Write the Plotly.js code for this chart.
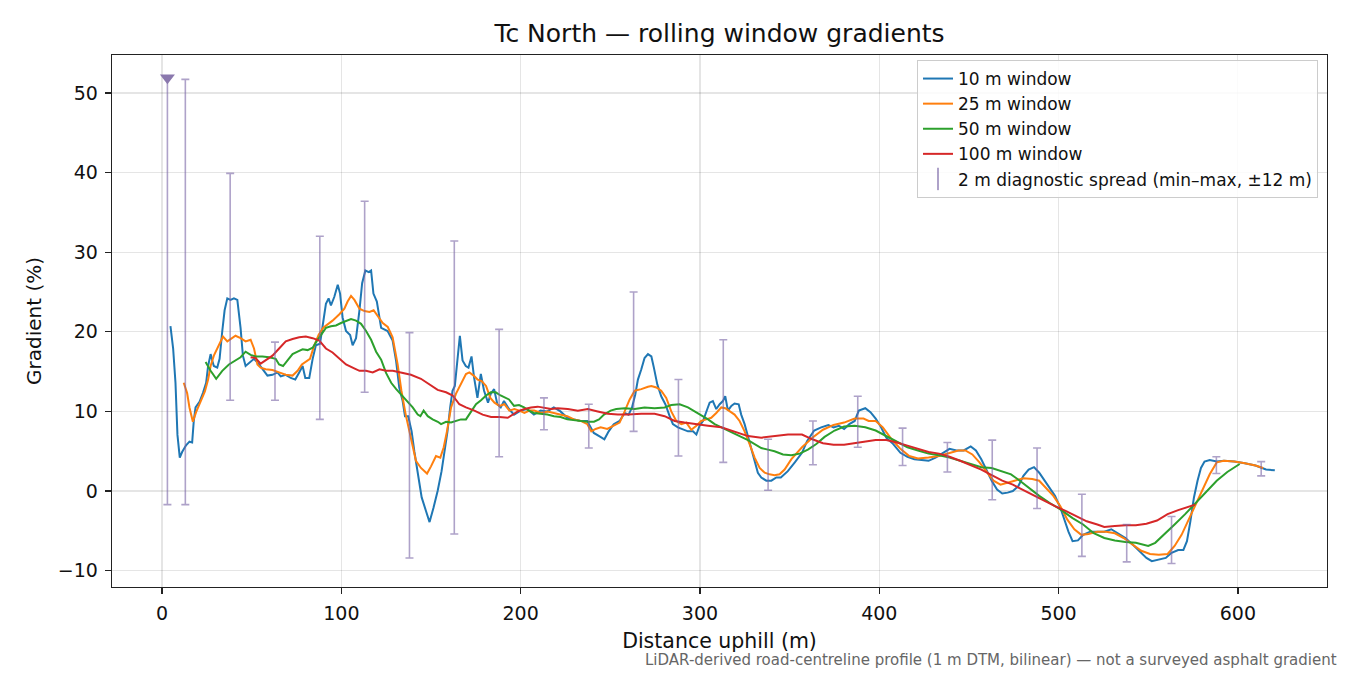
<!DOCTYPE html>
<html>
<head>
<meta charset="utf-8">
<script src="https://cdn.plot.ly/plotly-3.0.1.min.js"></script>
<style>html,body{margin:0;padding:0;background:#fff}#chart{width:1350px;height:675px}</style>
</head>
<body>
<div id="chart"></div>
<script>
// ---- data ----
var w10x = [4.7,6.2,7.5,8.6,9.9,11.2,13.4,15.3,16.8,17.7,18.7,20.9,22.8,24.6,25.7,27.1,28.0,28.9,30.8,32.1,33.6,34.9,36.4,38.2,40.1,42.0,43.8,45.1,46.6,48.9,51.3,54.1,56.9,58.8,61.6,64.4,66.2,69.0,71.8,74.3,76.5,78.4,79.9,82.1,84.0,85.8,88.1,89.9,91.4,92.9,94.2,96.1,98.0,99.3,100.7,102.6,104.9,106.3,108.2,110.1,111.6,113.4,115.3,116.6,117.9,119.8,122.2,125.8,128.6,130.5,132.3,134.2,135.5,137.3,139.2,140.7,142.5,144.8,147.2,149.2,151.4,153.7,155.9,157.7,159.2,160.7,162.0,163.3,164.4,166.1,167.6,169.4,170.9,172.6,174.0,175.9,177.8,179.6,181.8,183.3,185.2,187.0,188.9,190.7,193.5,196.3,200.0,203.7,207.4,211.1,214.8,218.5,222.2,226.0,229.7,233.4,237.1,240.8,244.5,246.7,249.1,251.9,255.2,258.0,260.2,262.1,263.9,265.4,267.3,269.1,271.0,272.9,274.3,276.2,278.4,280.7,283.1,284.9,287.7,290.5,293.3,296.1,298.0,299.8,301.7,304.1,305.4,307.2,309.1,311.0,312.8,314.1,315.6,317.5,319.3,321.6,323.0,324.9,326.8,328.6,330.5,332.3,334.2,337.0,339.8,342.6,345.1,349.0,352.9,356.9,359.8,363.7,367.6,371.6,374.5,377.5,380.4,383.3,386.3,388.6,392.2,395.1,398.0,401.0,403.9,407.8,411.8,415.7,419.6,423.5,427.5,431.4,435.3,439.2,443.1,447.1,451.0,453.9,456.9,459.8,462.7,465.7,468.6,471.6,474.5,477.5,480.4,483.3,486.3,489.2,492.2,495.1,498.0,501.0,502.9,505.5,507.8,510.8,513.7,517.6,521.6,525.5,529.4,533.3,537.3,541.2,545.1,549.0,552.0,555.9,559.8,562.7,566.7,569.6,571.6,573.5,575.5,577.5,579.4,581.4,584.3,588.2,592.2,598.0,603.9,609.8,615.7,620.6];
var w10y = [20.7,17.9,13.6,7.05,4.2,4.9,5.75,6.2,6.1,8.8,10.5,11.2,12.3,13.6,15.7,17.2,16.4,15.7,15.5,16.6,20.1,22.7,24.2,24.0,24.2,24.0,20.5,17.0,15.7,16.2,16.6,15.9,15.1,14.5,14.6,14.9,14.4,14.6,14.2,14.0,14.9,15.7,14.2,14.2,16.6,18.3,18.5,21.4,23.5,24.2,23.3,24.4,25.9,24.8,21.8,20.1,19.6,18.3,19.2,22.7,26.1,27.7,27.5,27.7,24.8,23.8,20.5,20.1,18.9,16.4,13.0,11.3,9.4,9.4,7.5,5.0,2.5,-0.8,-2.5,-3.9,-2.1,0.0,2.5,5.0,7.5,10.5,12.6,13.2,15.9,19.5,16.4,15.7,15.5,16.9,14.3,11.7,14.7,12.6,11.1,12.2,12.8,10.9,10.5,11.3,10.3,9.6,10.1,10.3,9.6,10.1,10.0,10.5,10.0,9.2,9.0,8.8,8.8,7.3,6.8,6.5,7.5,8.4,8.8,9.8,9.6,10.5,12.1,14.0,15.3,16.7,17.2,16.9,15.5,13.4,11.9,10.9,9.4,8.4,8.0,7.7,7.5,7.5,7.1,8.2,8.8,10.3,11.1,11.3,10.3,10.9,11.3,11.9,10.1,10.7,11.0,10.9,9.6,8.4,6.9,5.2,3.8,2.3,1.7,1.3,1.3,1.7,1.7,2.5,3.6,4.8,6.3,7.6,8.0,8.3,8.0,8.2,7.8,8.4,8.8,10.1,10.4,9.9,9.1,8.0,6.7,5.9,4.8,4.3,4.0,3.9,3.8,4.2,4.8,5.3,5.1,5.1,5.6,5.1,4.0,2.7,1.3,0.2,-0.3,-0.2,0.0,0.6,1.9,2.7,3.0,2.3,1.3,0.2,-0.6,-2.1,-3.4,-5.1,-6.3,-6.2,-5.5,-5.1,-5.1,-5.1,-4.8,-5.3,-5.9,-6.7,-7.6,-8.4,-8.8,-8.6,-8.4,-7.8,-7.4,-7.4,-6.3,-3.8,-0.8,1.3,2.9,3.7,3.9,3.7,3.8,3.7,3.5,3.2,2.7,2.6];

var w25x = [12.1,14.0,15.3,17.2,19.0,21.5,23.9,25.7,27.1,28.9,31.3,34.0,36.4,38.8,41.0,43.8,46.6,49.4,51.3,53.2,55.0,57.8,61.6,65.3,69.0,72.8,75.6,78.0,80.2,82.5,84.9,87.3,89.9,92.4,95.1,98.9,101.7,103.5,105.4,107.3,110.1,112.9,115.7,118.0,120.3,123.1,125.9,128.6,131.4,133.5,135.9,138.7,141.6,144.4,147.8,150.0,152.8,155.2,157.1,158.9,161.2,163.9,166.7,169.5,171.4,173.8,176.0,178.3,180.7,183.1,185.4,188.2,190.9,193.7,196.5,199.3,202.1,204.9,207.6,211.4,215.1,218.8,222.3,226.0,229.7,233.5,237.2,239.4,241.8,244.6,248.3,252.0,255.2,258.0,260.8,263.6,267.3,271.0,272.9,275.7,278.4,281.2,284.0,286.8,289.6,292.4,295.2,298.0,300.7,303.5,306.3,309.1,311.9,314.1,316.5,319.3,322.1,324.9,327.7,330.5,333.3,336.1,338.8,341.6,344.4,347.2,351.0,356.9,362.7,368.6,374.5,380.4,386.3,391.2,394.1,398.0,402.0,406.9,411.8,416.7,421.6,427.5,433.3,439.2,444.1,448.0,451.9,455.9,459.8,463.7,467.6,471.6,475.5,480.4,485.3,489.2,493.1,497.1,501.0,504.9,508.8,512.7,516.7,521.6,526.5,531.4,536.3,541.2,546.1,551.0,555.9,560.8,564.7,568.6,572.5,576.5,580.4,584.3,588.2,592.2,598.0,603.9,609.8,614.1];
var w25y = [13.6,12.3,10.5,8.7,9.9,11.2,12.5,14.0,15.7,17.0,18.1,19.4,18.8,19.2,19.5,19.2,18.8,19.0,17.9,15.9,15.5,15.3,15.2,14.9,14.6,14.5,15.1,15.9,16.2,16.6,18.3,19.6,20.5,20.9,21.4,22.2,22.9,23.8,24.5,24.0,22.9,22.6,22.5,22.7,22.0,21.1,20.6,19.3,15.9,12.6,9.6,6.7,3.8,2.9,2.2,3.1,4.4,4.2,5.5,7.5,10.5,12.2,13.4,14.7,14.9,14.5,14.0,13.8,13.2,11.7,11.1,10.7,10.9,10.1,10.3,10.1,9.8,10.1,10.1,9.8,10.0,9.8,9.6,9.4,9.0,8.8,8.4,7.5,7.8,8.0,7.8,8.2,8.6,10.0,11.5,12.6,12.8,13.1,13.2,13.0,12.6,11.7,10.0,8.8,8.4,8.6,7.7,8.2,8.8,9.0,9.2,9.8,10.5,10.4,10.0,9.6,8.8,7.5,5.9,4.2,2.9,2.3,2.1,2.0,2.1,2.7,4.0,5.5,6.7,7.7,8.3,8.6,9.1,9.1,8.8,8.8,8.0,6.5,5.3,4.4,4.1,4.2,4.4,4.8,5.1,5.1,4.6,3.6,2.5,1.3,0.8,1.1,1.3,1.6,1.5,1.3,0.4,-0.6,-1.9,-3.6,-4.8,-5.5,-5.4,-5.1,-5.1,-5.3,-5.9,-6.7,-7.5,-7.9,-8.0,-7.9,-6.9,-5.5,-3.6,-1.7,0.4,2.1,3.6,3.8,3.7,3.5,3.2,2.9];

var w50x = [24.3,27.1,30.2,33.6,37.3,41.0,43.8,46.6,49.4,52.2,56.0,59.7,63.4,65.3,67.5,70.0,72.8,75.6,78.4,81.2,84.0,86.2,88.6,91.4,94.2,97.0,99.8,102.6,105.4,108.2,111.0,113.8,116.6,119.4,122.2,125.0,127.8,130.6,133.4,136.2,139.8,142.6,144.1,145.9,148.2,150.9,153.8,155.6,158.4,161.2,163.9,166.7,169.5,172.3,175.1,177.9,180.7,183.3,186.1,188.8,191.6,193.5,196.3,199.1,201.9,204.6,207.4,211.1,214.9,218.6,222.3,226.0,229.7,233.5,237.2,240.9,243.7,246.5,250.2,253.3,258.0,263.6,269.1,274.7,280.3,284.0,288.7,293.3,297.0,300.7,304.5,308.2,311.9,315.6,319.3,323.0,326.8,330.5,334.2,337.9,341.6,346.3,350.9,355.6,360.2,364.9,369.5,375.1,380.4,386.3,392.2,398.0,403.9,409.8,415.7,421.6,427.5,433.3,439.2,445.1,451.0,456.9,462.7,468.6,473.5,478.4,483.3,489.2,495.1,501.0,507.8,513.7,519.6,525.5,531.4,537.3,543.1,550.0,553.9,558.8,564.7,570.6,576.5,582.4,588.2,594.1,601.0];
var w50y = [16.2,15.1,14.1,15.1,15.9,16.4,16.8,17.5,17.1,16.9,16.9,16.8,16.6,15.9,15.7,16.4,17.2,17.5,17.8,17.7,18.0,18.8,19.6,20.5,20.7,20.8,21.1,21.4,21.6,21.4,21.0,20.1,19.0,17.5,16.5,14.8,13.6,12.8,12.1,11.5,10.5,9.6,9.4,10.1,9.4,9.0,8.7,8.4,8.7,8.6,8.8,9.0,9.0,9.9,10.9,11.4,12.0,12.4,12.4,12.0,11.7,11.5,10.7,10.8,10.5,10.1,9.8,9.7,9.6,9.4,9.3,9.0,8.9,8.8,8.7,8.7,9.0,9.6,10.1,10.3,10.4,10.3,10.5,10.4,10.5,10.8,10.9,10.5,10.0,9.6,9.0,8.4,8.0,7.5,7.1,6.8,6.4,5.9,5.4,5.2,5.0,4.6,4.5,4.7,5.2,5.9,6.8,7.6,8.1,8.2,8.0,7.6,6.9,6.1,5.5,5.1,4.7,4.5,4.2,3.8,3.4,3.0,2.9,2.5,2.1,1.3,0.4,-0.6,-1.5,-2.3,-3.4,-4.2,-5.3,-5.9,-6.2,-6.4,-6.5,-6.9,-6.5,-5.5,-4.2,-2.9,-1.5,0.0,1.3,2.4,3.4];

var w100x = [49.4,52.2,55.0,57.8,61.6,65.3,69.0,72.8,76.5,80.2,84.0,87.7,91.4,95.1,98.9,102.6,106.3,110.1,113.8,117.5,121.3,125.0,128.7,133.3,138.8,144.4,149.1,153.7,158.4,162.1,165.8,169.5,174.2,178.8,183.5,188.1,192.8,195.6,198.4,202.1,205.8,209.5,213.3,217.0,220.7,226.3,231.9,237.5,243.0,248.6,254.2,259.9,267.3,274.7,280.3,285.9,291.4,297.0,304.5,311.9,319.3,326.8,334.2,341.6,349.1,356.9,362.7,368.6,374.5,380.4,386.3,392.2,398.0,403.9,409.8,415.7,421.6,427.5,433.3,439.2,445.1,451.0,456.9,462.7,468.6,474.5,480.4,486.3,492.2,498.0,503.9,509.8,515.7,521.6,525.5,531.4,537.3,543.1,549.0,554.9,560.8,566.7,572.5,576.1];
var w100y = [16.8,16.7,16.0,16.4,17.0,17.9,18.8,19.1,19.3,19.4,19.2,18.9,17.9,17.4,16.6,15.9,15.5,15.1,15.1,14.9,15.3,15.1,15.1,14.9,14.6,14.1,13.4,12.7,12.4,12.0,10.9,10.5,10.1,9.6,9.3,9.3,9.2,9.6,10.0,10.3,10.5,10.6,10.4,10.3,10.4,10.3,10.1,10.3,10.0,9.7,9.6,9.6,9.7,9.7,9.4,8.8,8.6,8.4,8.2,8.0,7.5,6.9,6.7,6.9,7.1,7.1,6.5,6.0,5.8,5.8,6.0,6.2,6.4,6.4,6.1,5.7,5.3,4.9,4.7,4.3,3.8,3.3,2.7,2.0,1.3,0.8,0.1,-0.6,-1.3,-1.9,-2.5,-3.2,-3.8,-4.2,-4.5,-4.4,-4.3,-4.3,-4.1,-3.7,-2.9,-2.4,-2.0,-1.7];

// 2 m diagnostic spread: min/max within +-12 m
var spreadX   = [3,13,38,63,88,113,138,163,188,213,238,263,288,313,338,363,388,413,438,463,488,513,538,563,588,613];
var spreadMin = [-1.7,-1.7,11.4,11.4,9.0,12.4,-8.4,-5.4,4.3,7.7,5.4,7.5,4.4,3.6,0.1,3.3,5.5,3.2,2.4,-1.1,-2.2,-8.2,-8.9,-9.1,2.2,1.9];
var spreadMax = [51.9,51.7,39.9,18.7,32.0,36.4,19.9,31.4,20.3,11.7,10.9,25.0,14.0,19.0,6.5,8.8,11.9,7.9,6.1,6.4,5.4,-0.4,-4.2,-3.2,4.3,3.7];
var flagX = [3];     // off-scale flag marker
var flagY = [51.9];

var xTicks = [0,100,200,300,400,500,600];
var yTicks = [-10,0,10,20,30,40,50];

// ---- chart ----
var FONT = "DejaVu Sans, Liberation Sans, sans-serif";
var spreadColor = "rgba(120,100,165,0.6)";

function lineTrace(x, y, name, color) {
  return {x: x, y: y, type: "scatter", mode: "lines", name: name,
          line: {color: color, width: 2}, hoverinfo: "skip"};
}

var traces = [
  lineTrace(w10x, w10y, "10 m window", "#1f77b4"),
  lineTrace(w25x, w25y, "25 m window", "#ff7f0e"),
  lineTrace(w50x, w50y, "50 m window", "#2ca02c"),
  lineTrace(w100x, w100y, "100 m window", "#d62728"),
  {
    x: spreadX, y: spreadMax, type: "scatter", mode: "markers", showlegend: false,
    marker: {size: 1, opacity: 0},
    error_y: {type: "data", symmetric: false,
              array: spreadMax.map(function(){return 0;}),
              arrayminus: spreadMax.map(function(v, i){return v - spreadMin[i];}),
              color: spreadColor, thickness: 1.6, width: 4},
    hoverinfo: "skip"
  },
  {
    x: flagX, y: flagY, type: "scatter", mode: "markers", showlegend: false,
    marker: {symbol: "triangle-down", size: 13, color: "#8a78ad"}, hoverinfo: "skip"
  },
  {
    x: [null], y: [null], type: "scatter", mode: "markers",
    name: "2 m diagnostic spread (min\u2013max, \u00b112 m)",
    marker: {symbol: "line-ns-open", size: 16, color: spreadColor, line: {color: spreadColor, width: 2}}
  }
];

var axisCommon = {
  showline: true, mirror: true, linecolor: "#222", linewidth: 1.3,
  ticks: "outside", ticklen: 6, tickwidth: 1.3, tickcolor: "#222",
  showgrid: true, gridcolor: "rgba(0,0,0,0.1)", gridwidth: 1.2,
  zeroline: false, tickfont: {family: FONT, size: 19, color: "#111"}
};

var layout = {
  width: 1350, height: 675,
  margin: {l: 112, r: 23, t: 55, b: 88},
  paper_bgcolor: "#fff", plot_bgcolor: "#fff",
  font: {family: FONT, color: "#111"},
  title: {text: "Tc North \u2014 rolling window gradients", font: {family: FONT, size: 25, color: "#111"},
          x: 0.5, xref: "paper", xanchor: "center", y: 1 - 33/675, yref: "container", yanchor: "middle"},
  xaxis: Object.assign({}, axisCommon, {
    range: [-27.9, 649.7], tickvals: xTicks, ticktext: xTicks.map(String),
    ticklabelstandoff: 3,
    title: {text: "Distance uphill (m)", font: {family: FONT, size: 20.5, color: "#111"}, standoff: 10}
  }),
  yaxis: Object.assign({}, axisCommon, {
    range: [-12.05, 54.76], tickvals: yTicks,
    ticklabelstandoff: 3,
    title: {text: "Gradient (%)", font: {family: FONT, size: 20, color: "#111"}, standoff: 10}
  }),
  showlegend: true,
  legend: {x: 0.9926, xanchor: "right", y: (587 - 60) / 532, yanchor: "top",
           bgcolor: "rgba(255,255,255,0.85)", bordercolor: "#cccccc", borderwidth: 1,
           font: {family: FONT, size: 17, color: "#111"}, tracegroupgap: 0, itemwidth: 30},
  annotations: [{
    text: "LiDAR-derived road-centreline profile (1 m DTM, bilinear) \u2014 not a surveyed asphalt gradient",
    xref: "paper", yref: "paper", x: (1339 - 112) / 1215, y: (587 - 660) / 532,
    xanchor: "right", yanchor: "middle", showarrow: false,
    font: {family: FONT, size: 15, color: "#666"}
  }]
};

Plotly.newPlot("chart", traces, layout, {displayModeBar: false, staticPlot: true});
</script>
</body>
</html>
